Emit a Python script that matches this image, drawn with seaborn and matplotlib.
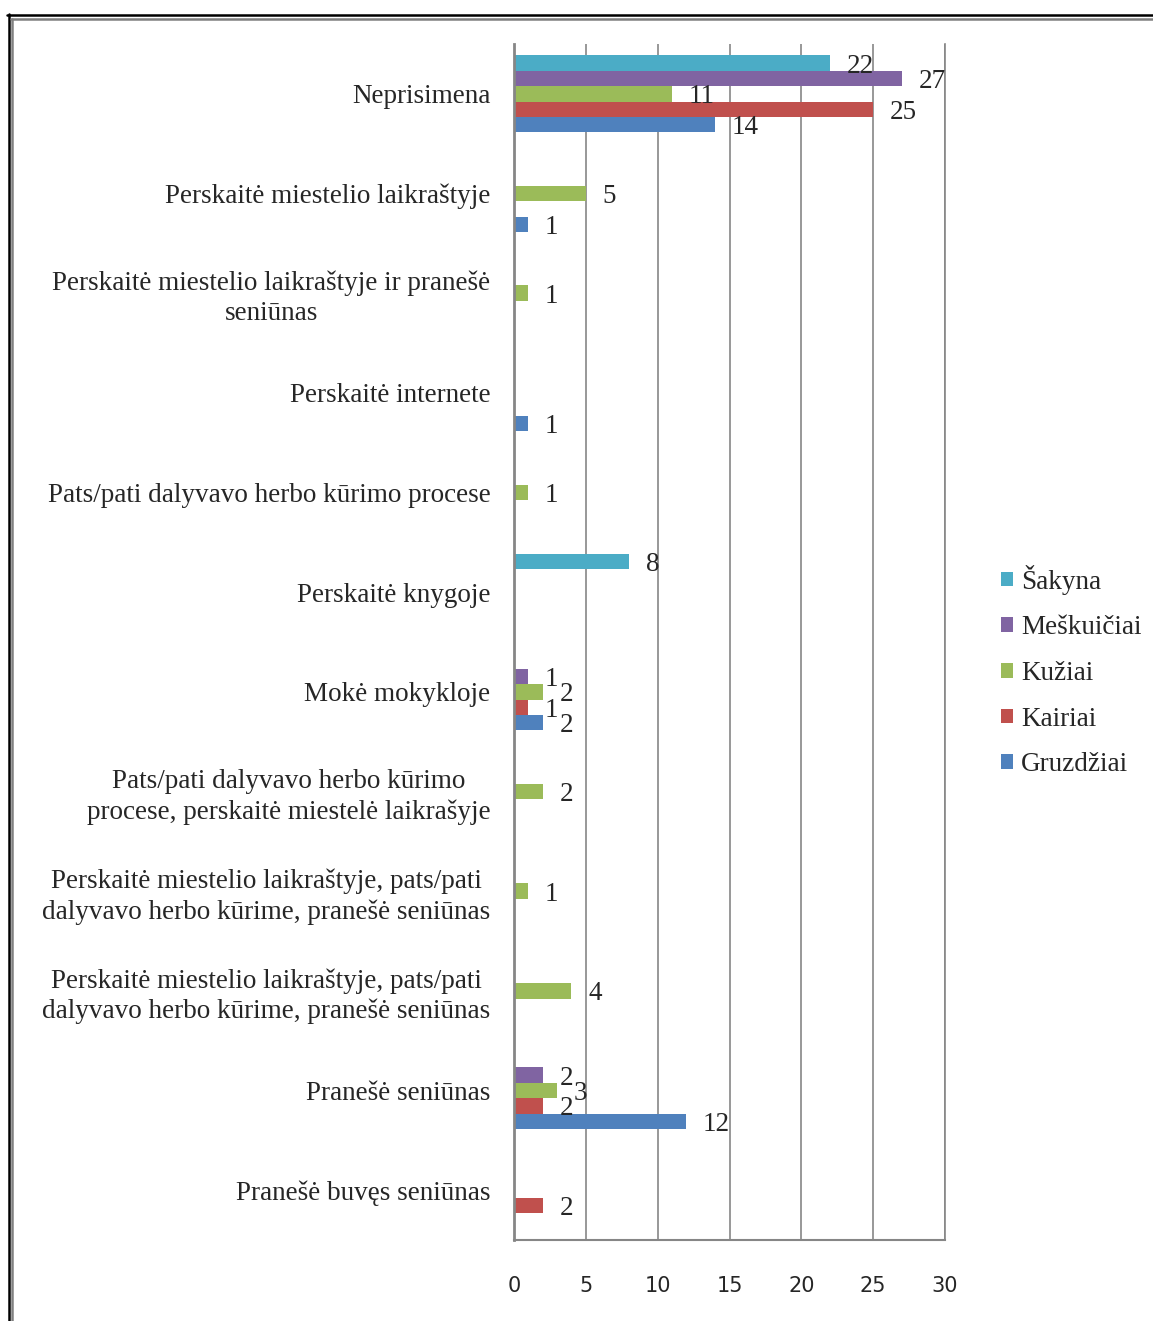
import pandas as pd
import matplotlib.pyplot as plt
import seaborn as sns
from matplotlib.lines import Line2D

# Categories top to bottom
categories = [
    "Neprisimena",
    "Perskaitė miestelio laikraštyje",
    "Perskaitė miestelio laikraštyje ir pranešė\nseniūnas",
    "Perskaitė internete",
    "Pats/pati dalyvavo herbo kūrimo procese",
    "Perskaitė knygoje",
    "Mokė mokykloje",
    "Pats/pati dalyvavo herbo kūrimo\nprocese, perskaitė miestelė laikrašyje",
    "Perskaitė miestelio laikraštyje, pats/pati\ndalyvavo herbo kūrime, pranešė seniūnas",
    "Perskaitė miestelio laikraštyje, pats/pati\ndalyvavo herbo kūrime, pranešė seniūnas",
    "Pranešė seniūnas",
    "Pranešė buvęs seniūnas",
]

series = ["Šakyna", "Meškuičiai", "Kužiai", "Kairiai", "Gruzdžiai"]

sakyna = [22, 0, 0, 0, 0, 8, 0, 0, 0, 0, 0, 0]
meskuiciai = [27, 0, 0, 0, 0, 0, 1, 0, 0, 0, 2, 0]
kuziai = [11, 5, 1, 0, 1, 0, 2, 2, 1, 4, 3, 0]
kairiai = [25, 0, 0, 0, 0, 0, 1, 0, 0, 0, 2, 2]
gruzdziai = [14, 1, 0, 1, 0, 0, 2, 0, 0, 0, 12, 0]

colors = ["#4BACC6", "#8064A2", "#9BBB59", "#C0504D", "#4F81BD"]

# long table, category index used as key (two labels repeat)
rows = []
for name, vals in zip(series, [sakyna, meskuiciai, kuziai, kairiai, gruzdziai]):
    for i, v in enumerate(vals):
        rows.append({"cat": i, "series": name, "value": v})
df = pd.DataFrame(rows)

sns.set_style("white")
plt.rcParams["font.family"] = ["Liberation Serif", "DejaVu Serif"]

fig = plt.figure(figsize=(11.53, 13.21), dpi=100)
ax = fig.add_axes([514 / 1153, 1 - 1240 / 1321, (945 - 514) / 1153, (1240 - 44) / 1321])

sns.barplot(data=df, x="value", y="cat", hue="series", hue_order=series,
            palette=colors, orient="h", width=0.77, errorbar=None,
            linewidth=0, saturation=1, ax=ax)

# value labels, skip zeros
for c in ax.containers:
    labels = [f"{v:g}" if v > 0 else "" for v in c.datavalues]
    texts = ax.bar_label(c, labels=labels, padding=12, fontsize=19.5,
                         fontfamily="Liberation Serif")
    for t in texts:
        t.set_va("center_baseline")

ax.set_xlim(0, 30)
ax.set_xticks(range(0, 31, 5))
ax.set_xticklabels([str(t) for t in range(0, 31, 5)],
                   fontfamily="DejaVu Sans", fontsize=15)
ax.set_yticks(range(len(categories)))
ax.set_yticklabels(categories, fontsize=19.5, multialignment="center",
                   linespacing=1.25)
ax.tick_params(axis="x", length=0, pad=26)
ax.tick_params(axis="y", length=0, pad=17)
ax.set_xlabel("")
ax.set_ylabel("")

ax.grid(axis="x", color="#868686", linewidth=1.2)
ax.set_axisbelow(True)
ax.spines["top"].set_visible(False)
for s in ["left", "bottom", "right"]:
    ax.spines[s].set_color("#868686")
ax.spines["left"].set_linewidth(2)
ax.spines["bottom"].set_linewidth(1.5)
ax.spines["right"].set_linewidth(1.2)

ax.legend(loc="center left", bbox_to_anchor=(1001 / 1153, 1 - 671 / 1321),
          bbox_transform=fig.transFigure, frameon=False, fontsize=19.5,
          handlelength=0.45, handleheight=0.45, handletextpad=0.3,
          labelspacing=0.76, borderpad=0, borderaxespad=0, title=None)

# page frame
W, H = 1153, 1321
def px_line(x0, y0, x1, y1, color, lw):
    fig.add_artist(Line2D([x0 / W, x1 / W], [1 - y0 / H, 1 - y1 / H],
                          transform=fig.transFigure, color=color, linewidth=lw))

px_line(8.5, 14, 8.5, H, "black", 1.8)
px_line(7, 15, W, 15, "black", 1.8)
px_line(12, 18.5, 12, H, "#808080", 1.8)
px_line(11, 18.5, W, 18.5, "#808080", 1.8)

fig.savefig("out.png", dpi=100)
